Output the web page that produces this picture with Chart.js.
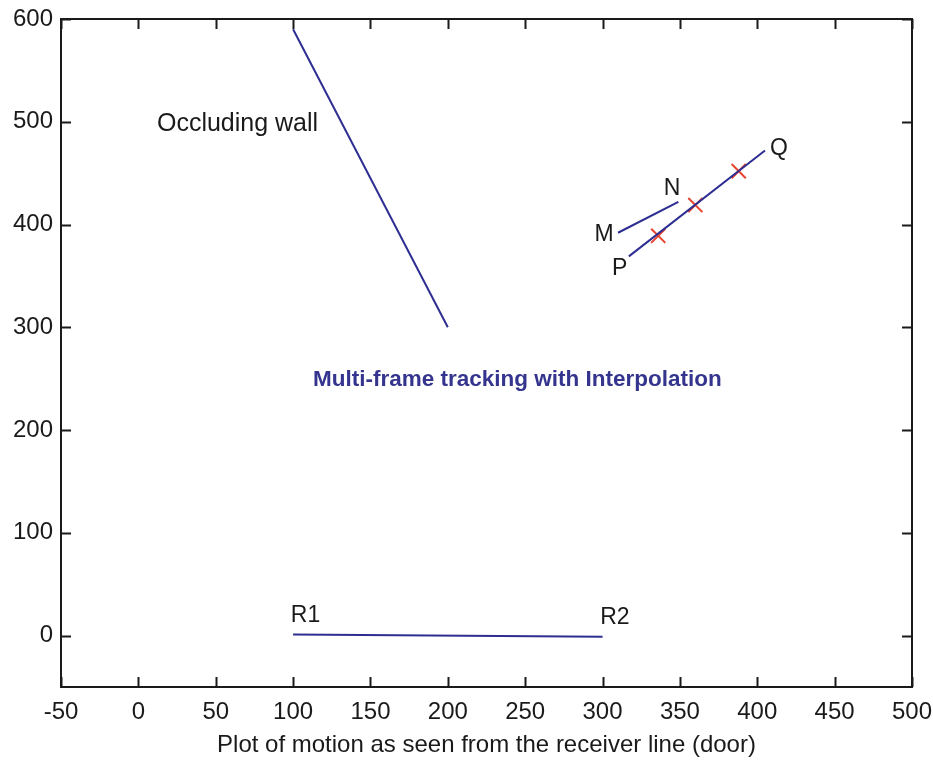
<!DOCTYPE html>
<html>
<head>
<meta charset="utf-8">
<script src="https://cdn.jsdelivr.net/npm/chart.js@4/dist/chart.umd.min.js"></script>
<style>
  html, body { margin: 0; padding: 0; background: #fff; }
  #wrap { width: 933px; height: 760px; }
</style>
</head>
<body>
<div id="wrap"><canvas id="c" width="933" height="760"></canvas></div>
<script>
// Tick values of both axes
const xTicks = [-50, 0, 50, 100, 150, 200, 250, 300, 350, 400, 450, 500];
const yTicks = [0, 100, 200, 300, 400, 500, 600];

// Occluding wall segment
const wallX = [100, 200];
const wallY = [590, 300];

// Receiver line R1 - R2
const receiverX = [100, 300];
const receiverY = [1, -1];

// Track M - N
const trackMNX = [310, 349];
const trackMNY = [392, 422];

// Track P - Q
const trackPQX = [317, 405];
const trackPQY = [369, 472];

// Interpolated positions on P - Q
const markX = [336, 360, 388];
const markY = [389, 419, 452];

// Text annotations placed in data coordinates
const noteText = ['Occluding wall', 'N', 'M', 'P', 'Q', 'R1', 'R2'];
const noteX = [12, 345, 301, 311, 414, 108, 308];
const noteY = [498, 435, 390, 357, 474, 19, 17];
const titleText = 'Multi-frame tracking with Interpolation';
const titleX = 245;
const titleY = 249;

const toPoints = (xs, ys) => xs.map((x, i) => ({ x: x, y: ys[i] }));
const lineBlue = '#2e2e92';
const fontFamily = '"Liberation Sans", Arial, sans-serif';

const frameAndTicks = {
  id: 'frameAndTicks',
  afterDraw(chart) {
    const { ctx, chartArea: a, scales } = chart;
    const xs = scales.x, ys = scales.y;
    ctx.save();
    ctx.strokeStyle = '#1a1a1a';
    ctx.lineWidth = 2;
    ctx.strokeRect(a.left, a.top, a.right - a.left, a.bottom - a.top);
    const len = 10;
    ctx.beginPath();
    xTicks.forEach(v => {
      const px = Math.round(xs.getPixelForValue(v)) + 0.5;
      ctx.moveTo(px, a.bottom); ctx.lineTo(px, a.bottom - len);
      ctx.moveTo(px, a.top); ctx.lineTo(px, a.top + len);
    });
    yTicks.forEach(v => {
      const py = Math.round(ys.getPixelForValue(v)) + 0.5;
      ctx.moveTo(a.left, py); ctx.lineTo(a.left + len, py);
      ctx.moveTo(a.right, py); ctx.lineTo(a.right - len, py);
    });
    ctx.stroke();

    // annotations
    ctx.fillStyle = '#1a1a1a';
    ctx.textBaseline = 'middle';
    noteText.forEach((t, i) => {
      ctx.font = (i === 0 ? '25px ' : '23px ') + fontFamily;
      ctx.textAlign = i === 0 ? 'left' : 'center';
      ctx.fillText(t, xs.getPixelForValue(noteX[i]), ys.getPixelForValue(noteY[i]));
    });
    ctx.font = 'bold 22.5px ' + fontFamily;
    ctx.fillStyle = '#35358f';
    ctx.textAlign = 'center';
    ctx.fillText(titleText, xs.getPixelForValue(titleX), ys.getPixelForValue(titleY));
    ctx.restore();
  }
};

new Chart(document.getElementById('c'), {
  type: 'scatter',
  data: {
    datasets: [
      { data: toPoints(wallX, wallY), showLine: true, borderColor: lineBlue, borderWidth: 2, pointRadius: 0 },
      { data: toPoints(receiverX, receiverY), showLine: true, borderColor: lineBlue, borderWidth: 2, pointRadius: 0 },
      { data: toPoints(trackMNX, trackMNY), showLine: true, borderColor: lineBlue, borderWidth: 2, pointRadius: 0 },
      { data: toPoints(trackPQX, trackPQY), showLine: true, borderColor: lineBlue, borderWidth: 2, pointRadius: 0 },
      { data: toPoints(markX, markY), showLine: false, pointStyle: 'crossRot', pointRadius: 10,
        borderColor: '#e8432e', borderWidth: 2, backgroundColor: '#e8432e' }
    ]
  },
  options: {
    responsive: false,
    animation: false,
    layout: { padding: { top: 19, right: 21, left: 0, bottom: 0 } },
    plugins: { legend: { display: false }, tooltip: { enabled: false } },
    scales: {
      x: {
        type: 'linear', min: -50, max: 500,
        afterBuildTicks: s => { s.ticks = xTicks.map(v => ({ value: v })); },
        afterFit: s => { s.height = 73; s.paddingLeft = 0; s.paddingRight = 0; },
        grid: { display: false, drawTicks: false },
        border: { display: false },
        ticks: { color: '#1a1a1a', padding: 11, maxRotation: 0, autoSkip: false,
                 font: { size: 24, family: fontFamily } },
        title: { display: true, text: 'Plot of motion as seen from the receiver line (door)', color: '#1a1a1a',
                 padding: { top: 0, bottom: 0 },
                 font: { size: 24, family: fontFamily } }
      },
      y: {
        type: 'linear', min: -50, max: 600,
        afterBuildTicks: s => { s.ticks = yTicks.map(v => ({ value: v })); },
        afterFit: s => { s.width = 61; s.paddingTop = 0; s.paddingBottom = 0; },
        grid: { display: false, drawTicks: false },
        border: { display: false },
        ticks: { color: '#1a1a1a', padding: 8, autoSkip: false,
                 font: { size: 24, family: fontFamily } }
      }
    }
  },
  plugins: [frameAndTicks]
});
</script>
</body>
</html>
